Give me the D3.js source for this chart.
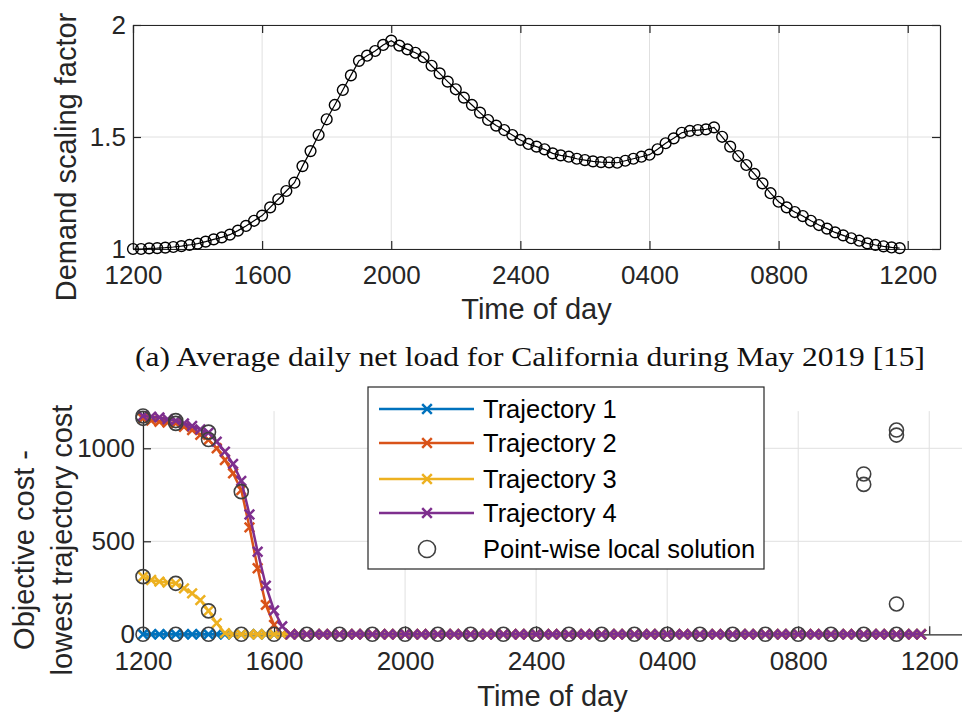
<!DOCTYPE html>
<html><head><meta charset="utf-8">
<script src="https://cdn.jsdelivr.net/npm/d3@7"></script>
<style>
body{margin:0;background:#fff;}
svg{display:block;font-family:"Liberation Sans",Arial,Helvetica,sans-serif;}
</style></head><body>
<svg id="c" width="962" height="713"></svg>
<script>
// ---------- data ----------
const hourTicks = [0, 4, 8, 12, 16, 20, 24];
const tickLabels = ["1200", "1600", "2000", "2400", "0400", "0800", "1200"];
const demandYTicks = [1, 1.5, 2];
const costYTicks = [0, 500, 1000];

const times = [
  0,0.25,0.5,0.75,1,1.25,1.5,1.75,2,2.25,2.5,2.75,3,3.25,3.5,3.75,
  4,4.25,4.5,4.75,5,5.25,5.5,5.75,6,6.25,6.5,6.75,7,7.25,7.5,7.75,
  8,8.25,8.5,8.75,9,9.25,9.5,9.75,10,10.25,10.5,10.75,11,11.25,11.5,11.75,
  12,12.25,12.5,12.75,13,13.25,13.5,13.75,14,14.25,14.5,14.75,15,15.25,15.5,15.75,
  16,16.25,16.5,16.75,17,17.25,17.5,17.75,18,18.25,18.5,18.75,19,19.25,19.5,19.75,
  20,20.25,20.5,20.75,21,21.25,21.5,21.75,22,22.25,22.5,22.75,23,23.25,23.5,23.75
];

const demand = [
  1.000,1.000,1.003,1.004,1.006,1.009,1.013,1.018,1.024,1.033,1.043,1.052,1.064,1.082,1.103,1.126,
  1.149,1.186,1.222,1.259,1.296,1.370,1.437,1.509,1.579,1.643,1.710,1.775,1.840,1.863,1.884,1.911,
  1.930,1.908,1.891,1.876,1.856,1.818,1.784,1.747,1.713,1.676,1.643,1.609,1.576,1.551,1.531,1.509,
  1.487,1.469,1.457,1.445,1.427,1.418,1.412,1.403,1.397,1.391,1.388,1.387,1.385,1.394,1.403,1.412,
  1.421,1.445,1.472,1.494,1.519,1.527,1.531,1.534,1.543,1.501,1.457,1.415,1.375,1.335,1.293,1.249,
  1.211,1.186,1.165,1.147,1.126,1.107,1.091,1.074,1.061,1.048,1.037,1.025,1.018,1.012,1.007,1.004
];

const trajectory1 = [
  0,0,0,0,0,0,0,0,0,0,0,0,0,0,0,0,
  0,0,0,0,0,0,0,0,0,0,0,0,0,0,0,0,
  0,0,0,0,0,0,0,0,0,0,0,0,0,0,0,0,
  0,0,0,0,0,0,0,0,0,0,0,0,0,0,0,0,
  0,0,0,0,0,0,0,0,0,0,0,0,0,0,0,0,
  0,0,0,0,0,0,0,0,0,0,0,0,0,0,0,0
];
const trajectory2 = [
  1160,1149,1143,1138,1134,1116,1098,1072,1045,1000,937,865,776,575,355,158,
  50,0,0,0,0,0,0,0,0,0,0,0,0,0,0,0,
  0,0,0,0,0,0,0,0,0,0,0,0,0,0,0,0,
  0,0,0,0,0,0,0,0,0,0,0,0,0,0,0,0,
  0,0,0,0,0,0,0,0,0,0,0,0,0,0,0,0,
  0,0,0,0,0,0,0,0,0,0,0,0,0,0,0,0
];
const trajectory3 = [
  310,292,283,278,274,247,220,184,126,60,6,0,0,0,0,0,
  0,0,0,0,0,0,0,0,0,0,0,0,0,0,0,0,
  0,0,0,0,0,0,0,0,0,0,0,0,0,0,0,0,
  0,0,0,0,0,0,0,0,0,0,0,0,0,0,0,0,
  0,0,0,0,0,0,0,0,0,0,0,0,0,0,0,0,
  0,0,0,0,0,0,0,0,0,0,0,0,0,0,0,0
];
const trajectory4 = [
  1174,1170,1166,1156,1149,1134,1120,1102,1084,1036,982,916,825,644,444,262,
  128,43,0,0,0,0,0,0,0,0,0,0,0,0,0,0,
  0,0,0,0,0,0,0,0,0,0,0,0,0,0,0,0,
  0,0,0,0,0,0,0,0,0,0,0,0,0,0,0,0,
  0,0,0,0,0,0,0,0,0,0,0,0,0,0,0,0,
  0,0,0,0,0,0,0,0,0,0,0,0,0,0,0,0
];
const trajectoryNames = ["Trajectory 1", "Trajectory 2", "Trajectory 3", "Trajectory 4"];
const trajectoryColors = ["#0072BD", "#D95319", "#EDB120", "#7E2F8E"];

const localTimes = [0,0,0,0, 1,1,1,1, 2,2,2,2, 3,3,
  4,5,6,7,8,9,10,11,12,13,14,15,16,17,18,19,20,21,
  22,22,22, 23,23,23,23];
const localValues = [1174,1161,310,0, 1149,1134,274,0, 1087,1047,126,0, 767,0,
  0,0,0,0,0,0,0,0,0,0,0,0,0,0,0,0,0,0,
  862,806,0, 1098,1071,163,0];

// ---------- drawing ----------
const svg = d3.select("#c");
const ink = "#262626", gridC = "#e0e0e0";
const tickFont = 26;
const lw = 2.5;

// ===== top chart =====
const x1 = d3.scaleLinear().domain([0, 25]).range([133, 940]);
const y1 = d3.scaleLinear().domain([1, 2]).range([249, 25]);
const g1 = svg.append("g");

g1.append("g").selectAll("line").data(hourTicks).join("line")
  .attr("x1", d => x1(d)).attr("x2", d => x1(d)).attr("y1", y1(2)).attr("y2", y1(1))
  .attr("stroke", gridC).attr("stroke-width", 1);
g1.append("g").selectAll("line").data(demandYTicks).join("line")
  .attr("x1", x1(0)).attr("x2", x1(25)).attr("y1", d => y1(d)).attr("y2", d => y1(d))
  .attr("stroke", gridC).attr("stroke-width", 1);

function styleAxis(g) {
  g.select(".domain").attr("stroke", ink).attr("stroke-width", 1.2);
  g.selectAll(".tick line").attr("stroke", ink).attr("stroke-width", 1.2);
  g.selectAll(".tick text").attr("fill", ink).attr("font-size", tickFont)
    .attr("font-family", '"Liberation Sans",Arial,sans-serif');
}
const ax1b = g1.append("g").attr("transform", `translate(0,${y1(1)})`)
  .call(d3.axisBottom(x1).tickValues(hourTicks).tickFormat((d, i) => tickLabels[i]).tickSizeInner(-8).tickSizeOuter(0).tickPadding(17));
styleAxis(ax1b);
const ax1t = g1.append("g").attr("transform", `translate(0,${y1(2)})`)
  .call(d3.axisTop(x1).tickValues(hourTicks).tickFormat("").tickSizeInner(-8).tickSizeOuter(0));
styleAxis(ax1t);
const ax1l = g1.append("g").attr("transform", `translate(${x1(0)},0)`)
  .call(d3.axisLeft(y1).tickValues(demandYTicks).tickFormat(d3.format("~g")).tickSizeInner(-8).tickSizeOuter(0).tickPadding(7));
styleAxis(ax1l);
const ax1r = g1.append("g").attr("transform", `translate(${x1(25)},0)`)
  .call(d3.axisRight(y1).tickValues(demandYTicks).tickFormat("").tickSizeInner(-8).tickSizeOuter(0));
styleAxis(ax1r);

g1.append("path").datum(times.map((t, i) => [t, demand[i]]))
  .attr("fill", "none").attr("stroke", "#000").attr("stroke-width", 1.2)
  .attr("d", d3.line().x(d => x1(d[0])).y(d => y1(d[1])));
g1.append("g").selectAll("circle").data(times.map((t, i) => [t, demand[i]])).join("circle")
  .attr("cx", d => x1(d[0])).attr("cy", d => y1(d[1])).attr("r", 5.4)
  .attr("fill", "none").attr("stroke", "#000").attr("stroke-width", 1.4);

g1.append("text").attr("x", (x1(0) + x1(25)) / 2).attr("y", 319)
  .attr("text-anchor", "middle").attr("font-size", 29).attr("fill", ink).text("Time of day");
g1.append("text").attr("transform", `translate(76,157) rotate(-90)`)
  .attr("text-anchor", "middle").attr("font-size", 29).attr("fill", ink).text("Demand scaling factor");

// caption
svg.append("text").attr("x", 135).attr("y", 366)
  .attr("font-family", '"Liberation Serif","DejaVu Serif",serif').attr("font-size", 27)
  .attr("fill", "#111").attr("textLength", 790).attr("lengthAdjust", "spacingAndGlyphs")
  .text("(a) Average daily net load for California during May 2019 [15]");

// ===== bottom chart =====
const x2 = d3.scaleLinear().domain([0, 25]).range([143, 962]);
const y2 = d3.scaleLinear().domain([0, 1200]).range([634.3, 411.1]);
const g2 = svg.append("g");

g2.append("g").selectAll("line").data(hourTicks).join("line")
  .attr("x1", d => x2(d)).attr("x2", d => x2(d)).attr("y1", y2(1200)).attr("y2", y2(0))
  .attr("stroke", gridC).attr("stroke-width", 1);
g2.append("g").selectAll("line").data(costYTicks.slice(1)).join("line")
  .attr("x1", x2(0)).attr("x2", x2(25)).attr("y1", d => y2(d)).attr("y2", d => y2(d))
  .attr("stroke", gridC).attr("stroke-width", 1);

const ax2b = g2.append("g").attr("transform", `translate(0,${y2(0)})`)
  .call(d3.axisBottom(x2).tickValues(hourTicks).tickFormat((d, i) => tickLabels[i]).tickSizeInner(-8).tickSizeOuter(0).tickPadding(17));
styleAxis(ax2b);
const ax2l = g2.append("g").attr("transform", `translate(${x2(0)},0)`)
  .call(d3.axisLeft(y2).tickValues(costYTicks).tickFormat(d3.format("d")).tickSizeInner(-8).tickSizeOuter(0).tickPadding(8));
styleAxis(ax2l);

const trajectories = [trajectory1, trajectory2, trajectory3, trajectory4];
const xMark = r => `M${-r},${-r}L${r},${r}M${-r},${r}L${r},${-r}`;
trajectories.forEach((vals, k) => {
  const pts = times.map((t, i) => [t, vals[i]]);
  const g = g2.append("g");
  g.append("path").datum(pts).attr("fill", "none").attr("stroke", trajectoryColors[k])
    .attr("stroke-width", lw).attr("stroke-linejoin", "round")
    .attr("d", d3.line().x(d => x2(d[0])).y(d => y2(d[1])));
  g.selectAll("path.m").data(pts).join("path").attr("class", "m")
    .attr("transform", d => `translate(${x2(d[0])},${y2(d[1])})`)
    .attr("d", xMark(4.8)).attr("fill", "none").attr("stroke", trajectoryColors[k]).attr("stroke-width", lw);
});
g2.append("g").selectAll("circle").data(localTimes.map((t, i) => [t, localValues[i]])).join("circle")
  .attr("cx", d => x2(d[0])).attr("cy", d => y2(d[1])).attr("r", 7)
  .attr("fill", "none").attr("stroke", "#404040").attr("stroke-width", 1.6);

g2.append("text").attr("x", (x2(0) + x2(25)) / 2).attr("y", 706)
  .attr("text-anchor", "middle").attr("font-size", 29).attr("fill", ink).text("Time of day");
g2.append("text").attr("transform", `translate(34,550) rotate(-90)`)
  .attr("text-anchor", "middle").attr("font-size", 29).attr("fill", ink).text("Objective cost -");
g2.append("text").attr("transform", `translate(72,540) rotate(-90)`)
  .attr("text-anchor", "middle").attr("font-size", 29).attr("fill", ink).text("lowest trajectory cost");

// legend
const lg = svg.append("g");
lg.append("rect").attr("x", 368).attr("y", 387).attr("width", 396).attr("height", 182)
  .attr("fill", "#fff").attr("stroke", ink).attr("stroke-width", 1.2);
const legendRows = [409, 443, 479, 513, 549];
trajectoryNames.forEach((name, k) => {
  const yy = legendRows[k];
  lg.append("line").attr("x1", 379).attr("x2", 474).attr("y1", yy).attr("y2", yy)
    .attr("stroke", trajectoryColors[k]).attr("stroke-width", lw);
  lg.append("path").attr("transform", `translate(427,${yy})`).attr("d", xMark(4.8))
    .attr("stroke", trajectoryColors[k]).attr("stroke-width", lw);
  lg.append("text").attr("x", 483).attr("y", yy).attr("dy", "0.35em")
    .attr("font-size", 25.5).attr("fill", "#000").text(name);
});
lg.append("circle").attr("cx", 427).attr("cy", legendRows[4]).attr("r", 8.5)
  .attr("fill", "none").attr("stroke", "#404040").attr("stroke-width", 1.6);
lg.append("text").attr("x", 483).attr("y", legendRows[4]).attr("dy", "0.35em")
  .attr("font-size", 25.5).attr("fill", "#000").text("Point-wise local solution");
</script>
</body></html>
